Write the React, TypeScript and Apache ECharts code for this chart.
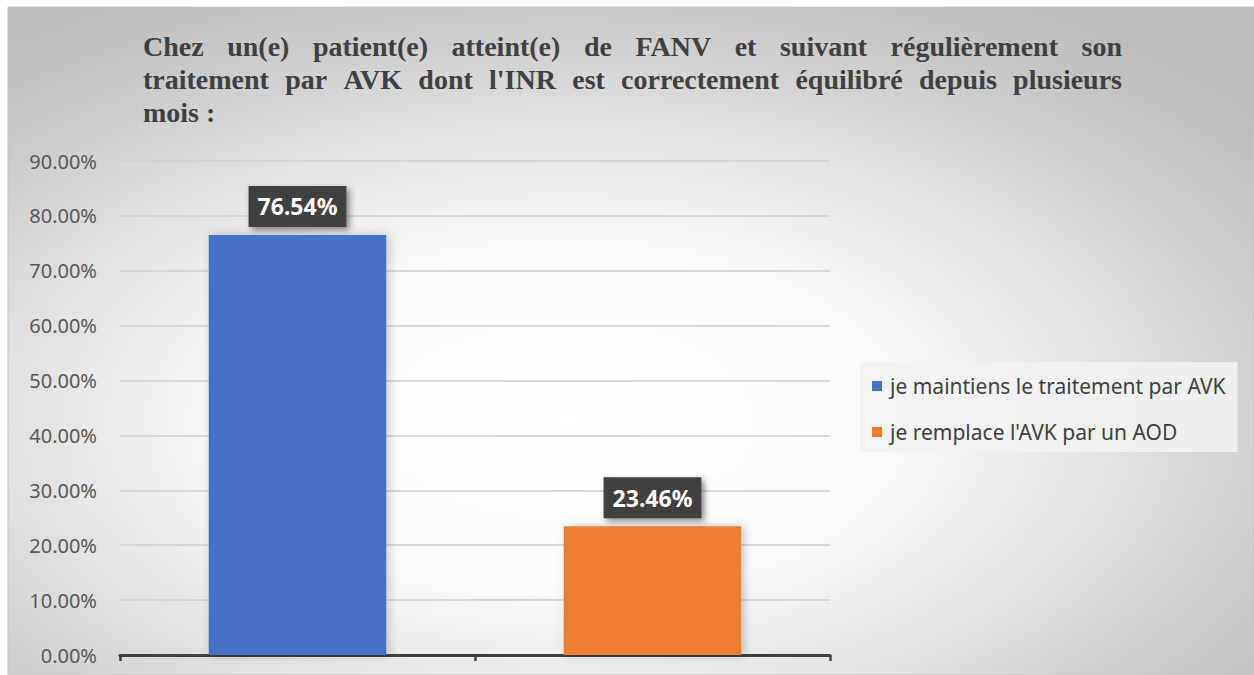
import React, { useEffect, useRef } from "react";
import * as echarts from "echarts";

const categories = ["je maintiens le traitement par AVK", "je remplace l'AVK par un AOD"];
const values = [76.54, 23.46];
const colors = ["#4472C4", "#ED7D31"];
const titleLines = [
  "Chez un(e) patient(e) atteint(e) de FANV et suivant régulièrement son",
  "traitement par AVK dont l'INR est correctement équilibré depuis plusieurs",
  "mois :",
];

const TITLE_FONT_SIZE = 28;
const TITLE_FONT = `bold ${TITLE_FONT_SIZE}px "Liberation Serif"`;

function buildTitle(): any[] {
  const canvas = document.createElement("canvas");
  const ctx = canvas.getContext("2d")!;
  ctx.font = TITLE_FONT;
  const x0 = 143;
  const x1 = 1122;
  const baselines = [55, 88, 121];
  const els: any[] = [];
  titleLines.forEach((line, li) => {
    const words = line.split(" ");
    const widths = words.map((w) => ctx.measureText(w).width);
    const total = widths.reduce((a, b) => a + b, 0);
    const justify = li < titleLines.length - 1;
    const gap = justify ? (x1 - x0 - total) / (words.length - 1) : ctx.measureText(" ").width;
    let x = x0;
    words.forEach((w, wi) => {
      els.push({
        type: "text",
        x,
        y: baselines[li] - 9,
        silent: true,
        style: {
          text: w,
          font: TITLE_FONT,
          fill: "#404040",
          align: "left",
          verticalAlign: "middle",
        },
      });
      x += widths[wi] + gap;
    });
  });
  return els;
}

export default function App() {
  const ref = useRef<HTMLDivElement>(null);
  useEffect(() => {
    if (!ref.current) return;
    const chart = echarts.init(ref.current, undefined, { renderer: "svg" });
    const bg = {
      type: "rect",
      z: -100,
      silent: true,
      shape: { x: 8, y: 7, width: 1246, height: 668 },
      style: {
        fill: new echarts.graphic.RadialGradient(0.45, 0.62, 0.72, [
          { offset: 0, color: "#ffffff" },
          { offset: 0.35, color: "#fbfbfb" },
          { offset: 1, color: "#bbbbbb" },
        ]),
        stroke: "#c4c4c4",
        lineWidth: 1,
      },
    };
    chart.setOption({
      animation: false,
      backgroundColor: "#ffffff",
      graphic: [bg, ...buildTitle()],
      grid: { left: 120, right: 424, top: 161, bottom: 20, containLabel: false },
      legend: {
        orient: "vertical",
        left: 860,
        top: 362,
        data: categories,
        icon: "rect",
        itemWidth: 10,
        itemHeight: 10,
        itemGap: 20,
        padding: [11, 12, 7, 12],
        backgroundColor: "rgba(242,242,242,0.85)",
        textStyle: {
          fontFamily: "Noto Sans",
          fontSize: 21,
          lineHeight: 26,
          color: "#404040",
          padding: [0, 0, 0, 3],
        },
      },
      xAxis: {
        type: "category",
        data: categories,
        axisLabel: { show: false },
        axisLine: { lineStyle: { color: "#404040", width: 3 } },
        axisTick: { show: true, interval: 0, length: 6, lineStyle: { color: "#404040", width: 2.5 } },
      },
      yAxis: {
        type: "value",
        min: 0,
        max: 90,
        interval: 10,
        axisLine: { show: false },
        axisTick: { show: false },
        axisLabel: {
          formatter: (v: number) => v.toFixed(2) + "%",
          fontFamily: "Noto Sans",
          fontSize: 20,
          color: "#595959",
          margin: 23,
        },
        splitLine: { lineStyle: { color: "#cfcfcf", width: 1.5 } },
      },
      series: categories.map((name, i) => ({
        name,
        type: "bar",
        stack: "s",
        barWidth: "50%",
        data: values.map((v, j) => (j === i ? v : null)),
        itemStyle: {
          color: colors[i],
          shadowBlur: 10,
          shadowColor: "rgba(0,0,0,0.2)",
          shadowOffsetX: 3,
          shadowOffsetY: 0,
        },
        label: {
          show: true,
          position: "top",
          distance: 8,
          formatter: (p: any) => Number(p.value).toFixed(2) + "%",
          backgroundColor: "#404040",
          padding: [8, 9, 8, 9],
          color: "#ffffff",
          fontFamily: "Noto Sans",
          fontWeight: "bold",
          fontSize: 23,
          lineHeight: 25,
          shadowBlur: 6,
          shadowColor: "rgba(0,0,0,0.45)",
          shadowOffsetX: 3,
          shadowOffsetY: 3,
        },
      })),
    });
    return () => chart.dispose();
  }, []);
  return (
    <div
      ref={ref}
      style={{ position: "fixed", left: 0, top: 0, width: 1254, height: 675 }}
    />
  );
}
